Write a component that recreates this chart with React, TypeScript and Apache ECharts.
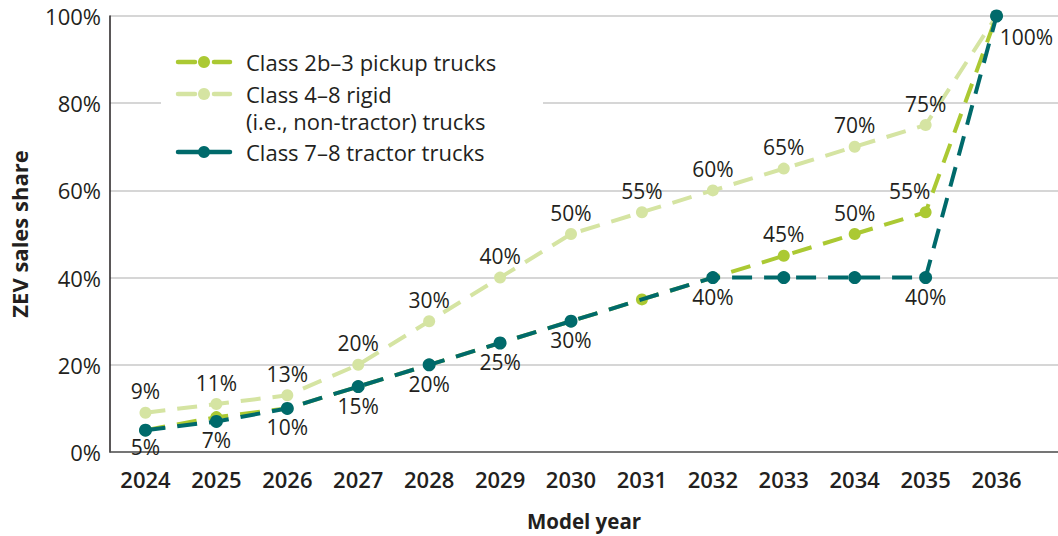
import React, { useEffect, useRef } from 'react';
import * as echarts from 'echarts';

// ---- Data ----
const years = ['2024', '2025', '2026', '2027', '2028', '2029', '2030', '2031', '2032', '2033', '2034', '2035', '2036'];
const pickup = [5, 8, 10, 15, 20, 25, 30, 35, 40, 45, 50, 55, 100];
const rigid = [9, 11, 13, 20, 30, 40, 50, 55, 60, 65, 70, 75, 100];
const tractor = [5, 7, 10, 15, 20, 25, 30, 35, 40, 40, 40, 40, 100];
const yMin = 0;
const yMax = 100;
const yStep = 20;

const seriesNames = ['Class 2b–3 pickup trucks', 'Class 4–8 rigid\n(i.e., non-tractor) trucks', 'Class 7–8 tractor trucks'];
const rigidLabelYears = ['2024', '2025', '2026', '2027', '2028', '2029', '2030', '2031', '2032', '2033', '2034', '2035'];
const pickupLabelYears = ['2033', '2034', '2035'];
const tractorLabelYears = ['2024', '2025', '2026', '2027', '2028', '2029', '2030', '2031', '2032', '2035', '2036'];
const tractorHiddenSymbolYears = ['2031'];

// ---- Styles ----
const FONT = 'Open Sans';
const C_PICKUP = '#abc933';
const C_RIGID = '#d5e4a2';
const C_TRACTOR = '#006a6b';
const C_TEXT = '#231f20';
const DASH = [20, 12];

const labelBase = { fontFamily: FONT, fontSize: 21, color: C_TEXT };

function buildOption() {
  const rigidData = rigid.map((v, i) => ({
    value: v,
    label: { show: rigidLabelYears.includes(years[i]) },
  }));
  const pickupData = pickup.map((v, i) => {
    const y = years[i];
    const item: any = { value: v, label: { show: pickupLabelYears.includes(y) } };
    if (y === '2035') item.label.offset = [-16, 0];
    return item;
  });
  const tractorData = tractor.map((v, i) => {
    const y = years[i];
    const item: any = { value: v, label: { show: tractorLabelYears.includes(y) } };
    if (tractorHiddenSymbolYears.includes(y)) item.symbol = 'none';
    if (y === '2024') item.label.offset = [0, -2];
    if (y === '2036') item.label.offset = [30, 2];
    return item;
  });

  const legendX = 176;
  const legendRows = [62, 94, 152];
  const legendColors = [C_PICKUP, C_RIGID, C_TRACTOR];
  const legendGraphics: any[] = [
    { type: 'rect', shape: { x: 161, y: 40, width: 382, height: 134 }, style: { fill: '#fff' }, z: 10 },
  ];
  legendRows.forEach((yy, i) => {
    const col = legendColors[i];
    if (i < 2) {
      legendGraphics.push({ type: 'line', shape: { x1: legendX + 2, y1: yy, x2: legendX + 19, y2: yy }, style: { stroke: col, lineWidth: 4.5, lineCap: 'round' }, z: 11 });
      legendGraphics.push({ type: 'line', shape: { x1: legendX + 38, y1: yy, x2: legendX + 54, y2: yy }, style: { stroke: col, lineWidth: 4.5, lineCap: 'round' }, z: 11 });
    } else {
      legendGraphics.push({ type: 'line', shape: { x1: legendX + 2, y1: yy, x2: legendX + 54, y2: yy }, style: { stroke: col, lineWidth: 4.5, lineCap: 'round' }, z: 11 });
    }
    legendGraphics.push({ type: 'circle', shape: { cx: legendX + 28, cy: yy, r: 6 }, style: { fill: col }, z: 12 });
    legendGraphics.push({
      type: 'text', x: 246, y: yy - 14, z: 12,
      style: { text: seriesNames[i], font: `22px "${FONT}"`, fill: C_TEXT, lineHeight: 27, verticalAlign: 'top' },
    });
  });

  const lineSeries = (name: string, data: any[], color: string, labelPos: string, dist: number, z: number, symbolSize: number) => ({
    name,
    type: 'line',
    xAxisIndex: 1,
    yAxisIndex: 1,
    data,
    z,
    symbol: 'circle',
    symbolSize,
    showSymbol: true,
    itemStyle: { color },
    lineStyle: { color, width: 4, type: DASH },
    label: { ...labelBase, position: labelPos, distance: dist, formatter: '{c}%' },
    emphasis: { disabled: true },
  });

  return {
    animation: false,
    backgroundColor: '#fff',
    grid: [
      { left: 110, right: 0, top: 16, bottom: 84, outerBoundsMode: 'none', containLabel: false },
      { left: 110, right: 26, top: 16, bottom: 84, outerBoundsMode: 'none', containLabel: false },
    ],
    xAxis: [
      {
        gridIndex: 0, type: 'value', min: 0, max: 1, offset: 4,
        axisLine: { show: true, lineStyle: { color: '#555', width: 1.5 } },
        axisTick: { show: false }, axisLabel: { show: false }, splitLine: { show: false },
        name: 'Model year', nameLocation: 'middle', nameGap: 54,
        nameTextStyle: { fontFamily: FONT, fontSize: 20.5, fontWeight: 'bold', color: C_TEXT },
      },
      {
        gridIndex: 1, type: 'category', data: years, offset: 4, boundaryGap: true,
        axisLine: { show: false }, axisTick: { show: false },
        axisLabel: { fontFamily: FONT, fontSize: 22, fontWeight: 600, color: C_TEXT, margin: 12 },
      },
    ],
    yAxis: [
      {
        gridIndex: 0, type: 'value', min: yMin, max: yMax, interval: yStep,
        axisLine: { show: true, lineStyle: { color: '#231f20', width: 1.5 } },
        axisTick: { show: false },
        axisLabel: { formatter: '{value}%', fontFamily: FONT, fontSize: 22, color: C_TEXT, margin: 9 },
        splitLine: { show: true, lineStyle: { color: '#c8c8c8', width: 1.5 } },
        name: 'ZEV sales share', nameLocation: 'middle', nameGap: 80, nameRotate: 90,
        nameTextStyle: { fontFamily: FONT, fontSize: 22, fontWeight: 'bold', color: C_TEXT },
      },
      {
        gridIndex: 1, type: 'value', min: yMin, max: yMax, interval: yStep, show: false,
        splitLine: { show: false },
      },
    ],
    series: [
      lineSeries('Class 4–8 rigid (i.e., non-tractor) trucks', rigidData, C_RIGID, 'top', 5, 2, 12),
      lineSeries('Class 2b–3 pickup trucks', pickupData, C_PICKUP, 'top', 5, 3, 12),
      lineSeries('Class 7–8 tractor trucks', tractorData, C_TRACTOR, 'bottom', 2, 4, 13),
    ],
    graphic: legendGraphics,
  };
}

export default function App() {
  const ref = useRef<HTMLDivElement>(null);
  useEffect(() => {
    const chart = echarts.init(ref.current as HTMLDivElement, null, { renderer: 'svg' });
    chart.setOption(buildOption() as any);
    return () => chart.dispose();
  }, []);
  return <div ref={ref} style={{ position: 'fixed', left: 0, top: 0, width: 1058, height: 536 }} />;
}
